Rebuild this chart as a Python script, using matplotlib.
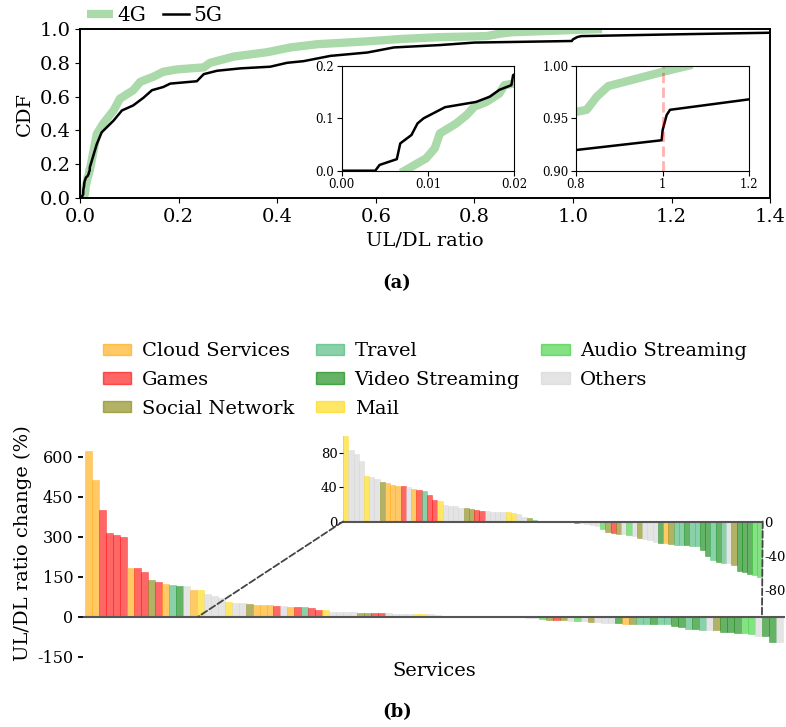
import matplotlib
matplotlib.use('Agg')
import matplotlib.pyplot as plt
from matplotlib.patches import Patch, ConnectionPatch

plt.rcParams['font.family'] = 'DejaVu Serif'
plt.rcParams['axes.unicode_minus'] = False

# ---- (a) CDF of UL/DL ratio ----
cdf_4g_x = [0.0073, 0.0098, 0.0108, 0.0114, 0.0133, 0.0145, 0.0154, 0.0168, 0.0183, 0.0189, 0.02,
            0.034, 0.047, 0.068, 0.081, 0.108, 0.122, 0.149, 0.169, 0.197, 0.251, 0.264, 0.312,
            0.38, 0.427, 0.481, 0.583, 0.651, 0.73, 0.8, 0.8246, 0.848, 0.8746, 1.0015, 1.059]
cdf_4g_y = [0.0, 0.0235, 0.0425, 0.071, 0.090, 0.106, 0.122, 0.131, 0.147, 0.163, 0.166,
            0.379, 0.44, 0.518, 0.588, 0.638, 0.687, 0.718, 0.747, 0.761, 0.773, 0.80, 0.837,
            0.863, 0.891, 0.91, 0.927, 0.941, 0.952, 0.956, 0.958, 0.9705, 0.9806, 0.9943, 1.0]

cdf_5g_x = [0.0, 0.0039, 0.0044, 0.0064, 0.0068, 0.0081, 0.0088, 0.0095, 0.012, 0.0156, 0.0172,
            0.0183, 0.0197, 0.0199, 0.034, 0.044, 0.068, 0.085, 0.108, 0.129, 0.146, 0.169, 0.183,
            0.237, 0.251, 0.278, 0.325, 0.386, 0.42, 0.454, 0.508, 0.583, 0.637, 0.73, 0.8,
            0.9977, 1.0, 1.0092, 1.017, 1.2, 1.4]
cdf_5g_y = [0.0, 0.0, 0.011, 0.022, 0.052, 0.068, 0.090, 0.0997, 0.121, 0.131, 0.141,
            0.154, 0.163, 0.182, 0.319, 0.389, 0.458, 0.518, 0.548, 0.594, 0.638, 0.657, 0.677,
            0.691, 0.733, 0.753, 0.767, 0.777, 0.80, 0.81, 0.841, 0.861, 0.891, 0.905, 0.9197,
            0.929, 0.9387, 0.953, 0.958, 0.968, 0.978]

# ---- (b) UL/DL ratio change per service (sorted) ----
categories = ['Cloud Services', 'Games', 'Social Network', 'Travel',
              'Video Streaming', 'Mail', 'Audio Streaming', 'Others']
cat_codes = ['C', 'G', 'S', 'T', 'V', 'M', 'A', 'O']
cat_colors = ['orange', 'red', 'olive', 'mediumseagreen',
              'green', 'gold', 'limegreen', 'lightgray']

ratio_change = [622, 514, 401, 315, 307, 299, 181, 181, 169, 137, 129, 124, 120, 116, 115, 101,
                100, 84, 79, 71, 53.5, 52, 50, 46, 45, 43, 42, 41, 40, 38, 36.5, 36, 31.5, 25, 23.5,
                19, 18.6, 17.8, 16, 15.4, 15, 13.5, 12.7, 12, 11.5, 11.1, 11, 10.7, 9.5, 8.3, 5.5,
                4.4, 2, 1.2, 1.2, 0.8, 0.5, 0.4, 0.3, 0.2, -1.5, -2, -3, -4, -5, -8.5, -12.8,
                -13.6, -14, -14.5, -15.5, -17.4, -19.4, -20.5, -22, -24, -25, -25.6, -26, -27,
                -27.5, -28, -28.3, -29, -33.7, -40, -45, -47.7, -48.4, -49, -50.4, -58, -59, -61,
                -63, -65, -71, -72, -96, -96]
service_cat = list('CCGGGGCGGSGCTVOC'
                   'MOOOMOOSCCCGOCGTGGMOOOOSSGGOOOOMMOOSTOTOVOOV'
                   'GOOOOASGSOAOSOOOVCSTTVTTVVTVTOSVVVAA'
                   'OVVO')

zoom_first, zoom_last = 16, 95

fig = plt.figure(figsize=(7.86, 7.27), dpi=100)

# ---------- panel (a) ----------
ax = fig.add_axes([0.1018, 0.7276, 0.878, 0.2325])
ax.plot(cdf_4g_x, cdf_4g_y, color='#2ca02c', alpha=0.4, lw=6, label='4G', solid_capstyle='butt')
ax.plot(cdf_5g_x, cdf_5g_y, color='black', lw=1.8, label='5G')
ax.set_xlim(0, 1.4)
ax.set_ylim(0, 1.0)
ax.set_xticks([0, 0.2, 0.4, 0.6, 0.8, 1.0, 1.2, 1.4])
ax.set_yticks([0, 0.2, 0.4, 0.6, 0.8, 1.0])
ax.tick_params(labelsize=14)
ax.set_xlabel('UL/DL ratio', fontsize=14)
ax.set_ylabel('CDF', fontsize=14)
for s in ax.spines.values():
    s.set_linewidth(1.4)
ax.legend(loc='lower left', bbox_to_anchor=(0.01, 1.025), ncol=2, frameon=False, fontsize=14.5,
          handlelength=1.3, handletextpad=0.2, columnspacing=0.85, borderaxespad=0, borderpad=0)

in1 = fig.add_axes([0.4347, 0.7652, 0.2192, 0.1444])
in1.plot(cdf_4g_x, cdf_4g_y, color='#2ca02c', alpha=0.4, lw=6)
in1.plot(cdf_5g_x, cdf_5g_y, color='black', lw=1.8)
in1.set_xlim(0, 0.02)
in1.set_ylim(0, 0.2)
in1.set_xticks([0, 0.01, 0.02])
in1.set_xticklabels(['0.00', '0.01', '0.02'])
in1.set_yticks([0, 0.1, 0.2])
in1.set_yticklabels(['0.0', '0.1', '0.2'])
in1.tick_params(labelsize=8.5, pad=2)

in2 = fig.add_axes([0.7328, 0.7652, 0.2205, 0.1444])
in2.plot(cdf_4g_x, cdf_4g_y, color='#2ca02c', alpha=0.4, lw=6)
in2.plot(cdf_5g_x, cdf_5g_y, color='black', lw=1.8)
in2.axvline(1.0, color='red', alpha=0.3, ls='--', lw=2)
in2.set_xlim(0.8, 1.2)
in2.set_ylim(0.9, 1.0)
in2.set_xticks([0.8, 1.0, 1.2])
in2.set_xticklabels(['0.8', '1', '1.2'])
in2.set_yticks([0.9, 0.95, 1.0])
in2.set_yticklabels(['0.90', '0.95', '1.00'])
in2.tick_params(labelsize=8.5, pad=2)

fig.text(397 / 786, 1 - 283 / 727, '(a)', ha='center', va='center', fontweight='bold', fontsize=13)

# ---------- panel (b) ----------
colors = [cat_colors[cat_codes.index(c)] for c in service_cat]
xs = list(range(len(ratio_change)))

axb = fig.add_axes([0.1056, 0.0967, 0.8931, 0.3118])
axb.bar(xs, ratio_change, width=1.0, color=colors, alpha=0.6, edgecolor=colors, lw=0.4)
axb.axhline(0, color='#555555', lw=1.5)
axb.set_xlim(-0.8, 99.8)
axb.set_ylim(-150, 700)
axb.set_yticks([-150, 0, 150, 300, 450, 600])
axb.set_xticks([])
for s in axb.spines.values():
    s.set_visible(False)
axb.tick_params(axis='y', labelsize=11.5, width=1.3)
axb.set_xlabel('Services', fontsize=14, labelpad=4)
axb.set_ylabel('UL/DL ratio change (%)', fontsize=14)

axi = fig.add_axes([0.4364, 0.165, 0.534, 0.2352])
axi.patch.set_alpha(0)
axi.bar(xs, ratio_change, width=1.0, color=colors, alpha=0.6, edgecolor=colors, lw=0.4)
axi.axhline(0, color='#555555', lw=1.5)
axi.set_xlim(zoom_first - 0.5, zoom_last + 0.5)
axi.set_ylim(-100, 100)
axi.set_xticks([])
axi.set_yticks([0, 40, 80])
for s in axi.spines.values():
    s.set_visible(False)
axi.tick_params(axis='y', labelsize=9.5, length=3, pad=1)
axr = axi.twinx()
axr.set_ylim(-100, 100)
axr.set_yticks([-80, -40, 0])
for s in axr.spines.values():
    s.set_visible(False)
axr.tick_params(axis='y', labelsize=9.5, length=0, pad=1)

for xa, xb in [(zoom_first - 0.5, zoom_first - 0.3), (zoom_last + 0.5, zoom_last + 1.5)]:
    con = ConnectionPatch(xyA=(xa, 0), coordsA=axi.transData, xyB=(xb, 0), coordsB=axb.transData,
                          ls='--', color='#444444', lw=1.3)
    fig.add_artist(con)

handles = [Patch(facecolor=c, edgecolor=c, alpha=0.6, label=l) for c, l in zip(cat_colors, categories)]
fig.legend(handles=handles, loc='upper left', bbox_to_anchor=(103 / 786, 1 - 342 / 727), ncol=3,
           frameon=False, fontsize=14, handlelength=1.45, handleheight=0.5, handletextpad=0.55,
           columnspacing=1.1, labelspacing=0.56, borderpad=0, borderaxespad=0)

fig.text(397 / 786, 1 - 712 / 727, '(b)', ha='center', va='center', fontweight='bold', fontsize=13)

fig.savefig('out.png', dpi=100)
